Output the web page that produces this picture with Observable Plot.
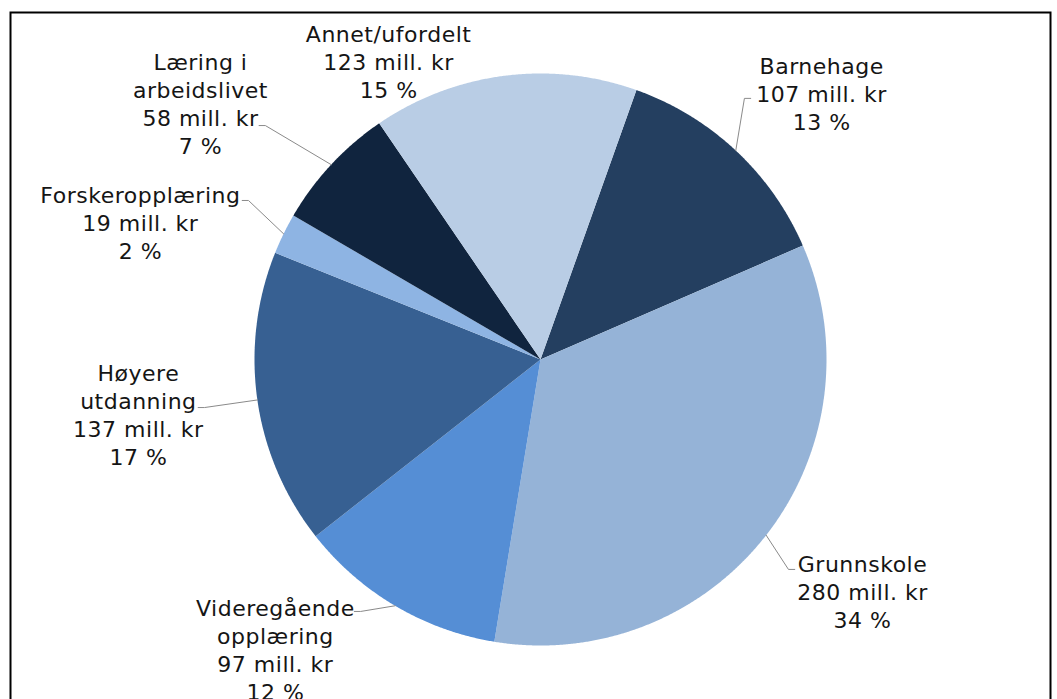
<!DOCTYPE html>
<html><head><meta charset="utf-8">
<script src="https://cdn.jsdelivr.net/npm/d3@7"></script>
<script src="https://cdn.jsdelivr.net/npm/@observablehq/plot@0.6"></script>
<style>body{margin:0;background:#fff;} svg text{letter-spacing:0.5px;}</style>
</head><body><div id="chart"></div>
<script>
// ---- data ----
const categories = ["Barnehage","Grunnskole","Videregående opplæring","Høyere utdanning","Forskeropplæring","Læring i arbeidslivet","Annet/ufordelt"];
const labelNames = ["Barnehage","Grunnskole","Videregående\nopplæring","Høyere\nutdanning","Forskeropplæring","Læring i\narbeidslivet","Annet/ufordelt"];
const values = [107,280,97,137,19,58,123];
const unit = "mill. kr";

// ---- styles ----
const colors = ["#243f60","#95b3d7","#558ed5","#376092","#8eb4e3","#10243e","#b9cde5"];

// ---- layout (in pie-radius units, y up) ----
const W = 1057, H = 699, CX = 540, CY = 359, R = 286;
const startAngleDeg = 19.6;
const labelPos = [[0.983,0.930],[1.126,-0.808],[-0.927,-1.012],[-1.406,-0.192],[-1.399,0.479],[-1.189,0.895],[-0.531,1.045]];
const elbowPos = [[0.713,0.913],[0.867,-0.734],[-0.629,-0.881],[-1.175,-0.168],[-1.021,0.556],[-0.962,0.818],null];
const tickLen = 0.022;
const tickDir = [1,1,-1,-1,-1,-1,0];

const total = d3.sum(values);
const a0 = startAngleDeg * Math.PI / 180;
const arcs = d3.pie().sort(null).startAngle(a0).endAngle(a0 + 2*Math.PI)(values);

const slices = [];
arcs.forEach((a, i) => {
  slices.push({cat: categories[i], x: 0, y: 0});
  const n = Math.max(2, Math.ceil((a.endAngle - a.startAngle) / (0.25*Math.PI/180)));
  for (let k = 0; k <= n; k++) {
    const t = a.startAngle + (a.endAngle - a.startAngle) * k / n;
    slices.push({cat: categories[i], x: Math.sin(t), y: Math.cos(t)});
  }
});

const labels = categories.map((c, i) => ({
  cat: c,
  x: labelPos[i][0], y: labelPos[i][1],
  text: `${labelNames[i]}\n${values[i]} ${unit}\n${Math.round(values[i]/total*100)} %`
}));

const leaders = [];
arcs.forEach((a, i) => {
  if (!elbowPos[i]) return;
  const m = (a.startAngle + a.endAngle) / 2;
  const [ex, ey] = elbowPos[i];
  leaders.push({cat: categories[i], x: Math.sin(m), y: Math.cos(m)});
  leaders.push({cat: categories[i], x: ex, y: ey});
  leaders.push({cat: categories[i], x: ex + tickDir[i]*tickLen, y: ey});
});

const chart = Plot.plot({
  width: W, height: H,
  marginTop: 0, marginRight: 0, marginBottom: 0, marginLeft: 0,
  x: {domain: [-CX/R, (W-CX)/R], range: [0, W], axis: null},
  y: {domain: [-(H-CY)/R, CY/R], range: [H, 0], axis: null},
  color: {domain: categories, range: colors},
  style: {background: "#fff"},
  marks: [
    Plot.line(slices, {x: "x", y: "y", z: "cat", fill: "cat", stroke: "none", curve: "linear-closed"}),
    Plot.line(leaders, {x: "x", y: "y", z: "cat", stroke: "#8a8a8a", strokeWidth: 1}),
    Plot.text(labels, {x: "x", y: "y", text: "text", fontSize: 22, fontFamily: "DejaVu Sans", lineHeight: 1.273, fill: "#151515"}),
    Plot.frame({stroke: "#000", strokeWidth: 2, insetLeft: 10, insetTop: 12, insetRight: 7, insetBottom: -10})
  ]
});
document.getElementById("chart").appendChild(chart);
</script>
</body></html>
